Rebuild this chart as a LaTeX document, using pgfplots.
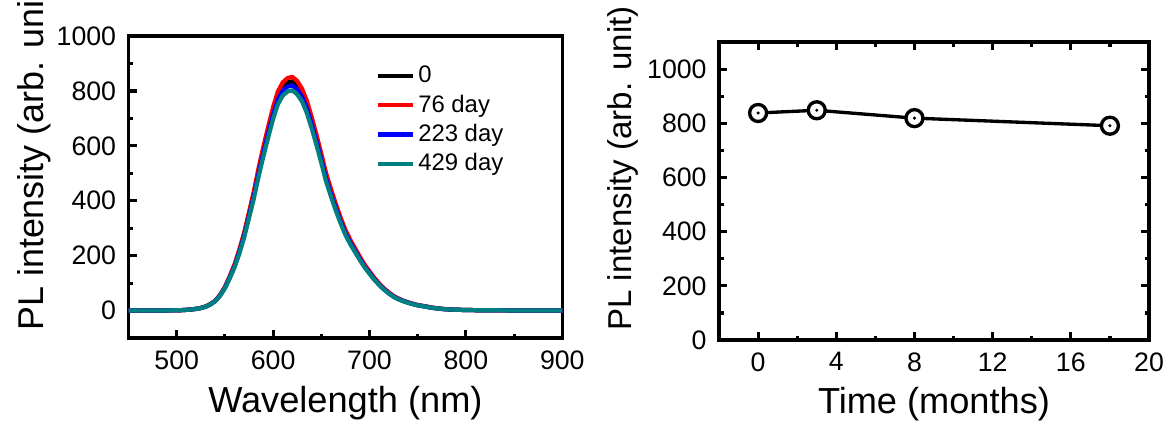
\documentclass[border=0pt]{standalone}
\usepackage{pgfplots}
\usepackage{pgfplotstable}
\pgfplotsset{compat=1.18}
\usepackage{fontspec}
\setmainfont{Liberation Sans}

% circle with a dot in the middle
\pgfdeclareplotmark{odot}{%
  \pgfsetfillcolor{white}%
  \pgfpathcircle{\pgfpointorigin}{\pgfplotmarksize}%
  \pgfusepathqfillstroke
  \pgfsetfillcolor{black}%
  \pgfpathcircle{\pgfpointorigin}{0.2\pgfplotmarksize}%
  \pgfusepathqfill
}

\pgfplotstableread{
nm  d0   d76  d223 d429
450 0    0    0    0
480 0    0    0    0
500 1    1    1    1
505 1.5  1.6  1.5  1.5
510 2.5  2.7  2.5  2.5
515 4    4.2  4    4
520 6    6.4  6    6
525 9.5  9.6  9    9
530 14.5 15   14   14
535 23   23.5 22.5 22
540 35.5 36   35   34
545 56   57   55   54
550 84   86   83   81
555 122  125  120  117
560 164  168  161  158
565 217  222  213  208
570 278  284  273  267
575 351  358  344  337
580 425  434  417  408
585 509  520  500  489
590 586  598  575  563
595 658  671  646  632
600 727  741  713  698
605 783  798  769  752
610 815  831  800  783
615 831  847  816  798
620 835  851  820  802
625 820  836  805  788
630 793  808  779  762
635 750  764  736  720
640 691  705  679  664
645 628  640  616  603
650 560  571  550  538
655 489  500  480  470
660 433  443  425  416
665 380  389  373  365
670 331  339  325  318
675 287  294  282  276
680 252  258  247  242
685 222  227  218  213
690 192  196  188  184
695 163  167  160  157
700 139  143  137  134
705 117  119  114  112
710 97   99   95   93
715 79   81   78   76
720 65   66   63   62
725 52   53   51   50
730 43   44   42   41
735 35   36   35   34
740 29   30   29   28
745 24   25   24   23
750 20   20   19   19
755 17   17   16   16
760 14   14   13   13
765 10   11   10   10
770 8    8.5  8    8
775 6    6.5  6    6
780 4.5  5    4.5  4.5
790 3    3    3    3
800 2    2    2    2
820 1    1    1    1
850 0.5  0.5  0.5  0.5
900 0    0    0    0
}\spectra

\pgfplotstableread{
month pl
0  838
3  848
8  819
18 791
}\decay

\pgfplotsset{
  panel/.style={
    scale only axis,
    axis line style={line width=0.95pt},
    every tick/.style={black, line width=0.9pt},
    major tick length=0.8mm, minor tick length=0.45mm,
    tick align=inside,
    minor tick num=1,
    tick label style={font=\fontsize{7.6}{9}\selectfont},
    /pgf/number format/assume math mode=true,
    /pgf/number format/1000 sep={},
    every axis x label/.style={at={(axis description cs:0.5,-0.245)}, anchor=base,
      font=\fontsize{10.3}{12}\selectfont},
  }
}

\begin{document}
\begin{tikzpicture}
\begin{axis}[panel,
  at={(12.85mm,8.5mm)}, anchor=south west,
  width=43.38mm, height=30.2mm,
  xmin=450, xmax=900, ymin=-100, ymax=1000,
  xtick={500,600,...,900}, ytick={0,200,...,1000},
  xtick pos=left, ytick pos=left,
  xlabel={Wavelength (nm)},
  ylabel={PL intensity (arb. unit)},
  every axis y label/.style={at={(axis description cs:-0.197,-0.0166)},
    rotate=90, anchor=base west, font=\fontsize{10.2}{12}\selectfont},
  legend style={at={(axis description cs:0.569,0.914)}, anchor=north west,
    draw=none, fill=none, inner sep=0pt, row sep=0.34mm,
    font=\fontsize{6.8}{8}\selectfont,
    nodes={inner xsep=0.3mm, inner ysep=0pt, text height=2mm, text depth=0.6mm}},
  legend cell align=left,
  legend image code/.code={\draw[#1] (0mm,0mm) -- (3.5mm,0mm);},
  every axis plot/.append style={line width=1.2pt, mark=none, line join=round},
]
\addplot[black] table[x=nm, y=d0] {\spectra};
\addplot[red] table[x=nm, y=d76] {\spectra};
\addplot[blue] table[x=nm, y=d223] {\spectra};
\addplot[teal] table[x=nm, y=d429] {\spectra};
\legend{0, 76 day, 223 day, 429 day}
\end{axis}

\begin{axis}[panel,
  at={(71.9mm,8.3mm)}, anchor=south west,
  width=43.0mm, height=29.8mm,
  xmin=-2, xmax=20, ymin=0, ymax=1100,
  xtick={0,4,...,20}, ytick={0,200,...,1000},
  xlabel={Time (months)},
  ylabel={PL intensity (arb. unit)},
  every axis y label/.style={at={(axis description cs:-0.203,-0.010)},
    rotate=90, anchor=base west, font=\fontsize{9.4}{11}\selectfont},
]
\addplot[black, line width=0.95pt, mark=odot, mark size=0.85mm,
  mark options={line width=0.95pt}] table[x=month, y=pl] {\decay};
\end{axis}

\pgfresetboundingbox
\useasboundingbox (0,0) rectangle (117mm,42.3mm);
\end{tikzpicture}
\end{document}
